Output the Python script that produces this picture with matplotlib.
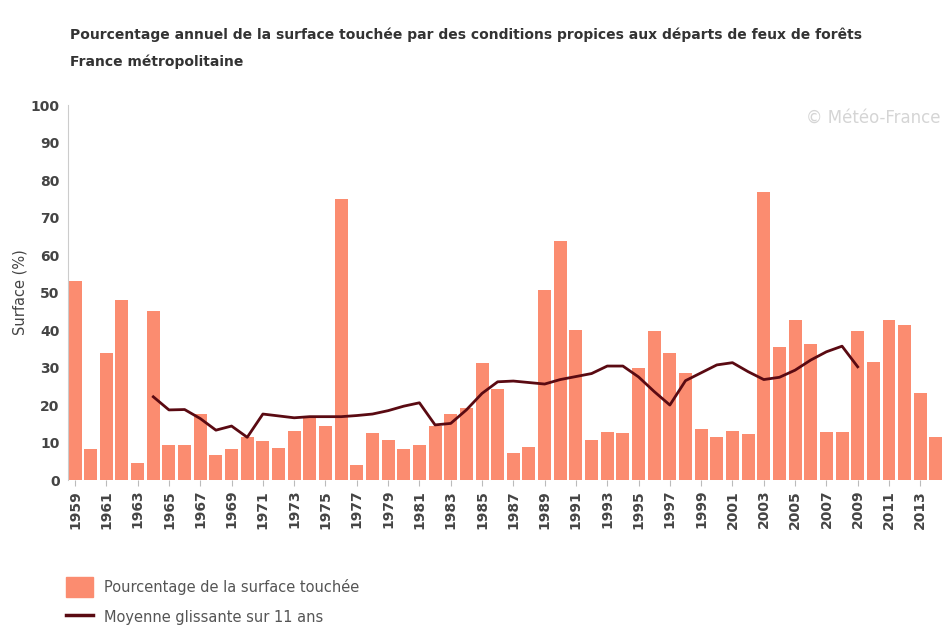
import numpy as np
import matplotlib.pyplot as plt
from matplotlib.lines import Line2D
from matplotlib.patches import Patch

years = list(range(1959, 2015))
surface = [53, 8.3, 34, 48, 4.5, 45, 9.3, 9.3, 17.6, 6.7,
           8.3, 11.6, 10.4, 8.5, 13, 16.8, 14.5, 75, 4, 12.6,
           10.8, 8.4, 9.3, 14.4, 17.6, 19.1, 31.1, 24.4, 7.1, 8.9,
           50.8, 63.8, 40, 10.7, 12.9, 12.6, 30, 39.8, 34, 28.6,
           13.5, 11.6, 13.2, 12.2, 76.9, 35.4, 42.7, 36.2, 12.8, 12.8,
           39.8, 31.4, 42.7, 41.3, 23.1, 11.6]

ma_years = list(range(1964, 2010))
moyenne = [22.2, 18.7, 18.8, 16.4, 13.3, 14.4, 11.4, 17.6, 17.1, 16.6,
           16.9, 16.9, 16.9, 17.2, 17.6, 18.5, 19.7, 20.6, 14.7, 15.1,
           18.7, 23.1, 26.2, 26.4, 26.0, 25.6, 26.8, 27.6, 28.4, 30.4,
           30.4, 27.5, 23.6, 20.0, 26.5, 28.6, 30.7, 31.3, 28.9, 26.8,
           27.4, 29.3, 32.0, 34.2, 35.7, 30.2]

bar_color = "#fb8c70"
line_color = "#5a0a12"

fig = plt.figure(figsize=(9.43, 6.27), dpi=100)
ax = fig.add_axes([0.0721, 0.2344, 0.9279, 0.598])

ax.bar(years, surface, width=0.83, color=bar_color)
ax.plot(ma_years, moyenne, color=line_color, lw=2)

ax.set_xlim(1958.55, 2014.45)
ax.set_ylim(0, 100)
ax.set_yticks(range(0, 101, 10))
ax.set_xticks(years[::2])
ax.set_xticklabels([str(y) for y in years[::2]], rotation=90)
ax.tick_params(axis="y", length=0, pad=6, labelsize=10, labelcolor="#444444")
ax.tick_params(axis="x", length=4, color="#bbbbbb", pad=3, labelsize=10, labelcolor="#444444")
for lab in ax.get_yticklabels() + ax.get_xticklabels():
    lab.set_fontweight("bold")

for s in ["top", "right", "bottom"]:
    ax.spines[s].set_visible(False)
ax.spines["left"].set_color("#cccccc")

ax.set_ylabel("Surface (%)", fontsize=10.5, color="#444444")
ax.yaxis.set_label_coords(-0.046, 0.5)

fig.text(0.074, 0.945, "Pourcentage annuel de la surface touchée par des conditions propices aux départs de feux de forêts",
         fontsize=10, fontweight="bold", color="#333333", va="center")
fig.text(0.074, 0.902, "France métropolitaine",
         fontsize=10, fontweight="bold", color="#333333", va="center")

fig.text(0.997, 0.812, "© Météo-France", fontsize=12, color="#d5d5d5", va="center", ha="right")

handles = [Patch(color=bar_color), Line2D([], [], color=line_color, lw=2.5)]
fig.legend(handles, ["Pourcentage de la surface touchée", "Moyenne glissante sur 11 ans"],
           loc="lower left", bbox_to_anchor=(0.0566, -0.022), frameon=False,
           fontsize=10.5, labelcolor="#555555", handlelength=1.8, handleheight=1.8,
           labelspacing=0.66, handletextpad=0.8)

fig.savefig("out.png", dpi=100)
